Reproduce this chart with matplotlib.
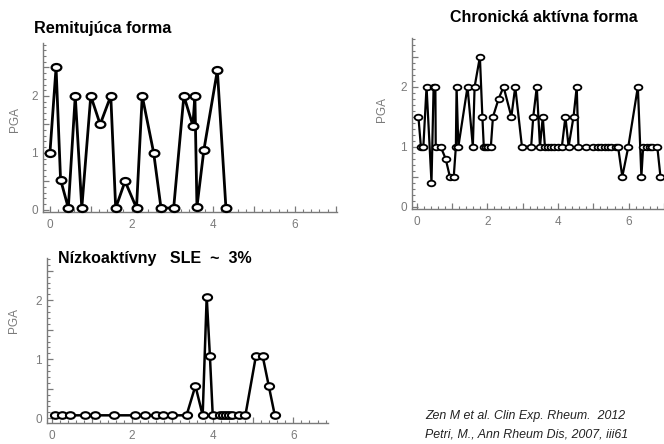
import matplotlib
matplotlib.use("Agg")
import matplotlib.pyplot as plt
from matplotlib.path import Path
from matplotlib.ticker import MultipleLocator, FuncFormatter

plt.rcParams['font.family'] = ['Liberation Sans', 'DejaVu Sans']

# ---- data ----
title1 = "Remitujúca forma"
x1 = [0.0, 0.15, 0.26, 0.45, 0.62, 0.78, 1.0, 1.23, 1.49, 1.61, 1.84, 2.12,
      2.26, 2.54, 2.72, 3.03, 3.28, 3.50, 3.55, 3.60, 3.77, 4.10, 4.31]
y1 = [1.0, 2.5, 0.53, 0.03, 2.0, 0.03, 2.0, 1.5, 2.0, 0.03, 0.5, 0.03,
      2.0, 1.0, 0.03, 0.03, 2.0, 1.48, 2.0, 0.05, 1.05, 2.45, 0.03]

title2 = "Chronická aktívna forma"
x2 = [0.05, 0.12, 0.19, 0.28, 0.42, 0.48, 0.53, 0.54, 0.68, 0.82, 0.94, 1.05,
      1.11, 1.13, 1.18, 1.44, 1.59, 1.64, 1.79, 1.86, 1.90, 1.96, 2.02, 2.10,
      2.16, 2.32, 2.46, 2.68, 2.79, 2.98, 3.24, 3.30, 3.40, 3.49, 3.57, 3.63,
      3.71, 3.80, 3.90, 4.01, 4.11, 4.21, 4.30, 4.44, 4.53, 4.58, 4.79, 5.00,
      5.12, 5.23, 5.32, 5.42, 5.51, 5.63, 5.70, 5.82, 5.99, 6.26, 6.36, 6.41,
      6.51, 6.60, 6.67, 6.81, 6.90]
y2 = [1.5, 1.0, 1.0, 2.0, 0.4, 2.0, 2.0, 1.0, 1.0, 0.8, 0.5, 0.5,
      1.0, 2.0, 1.0, 2.0, 1.0, 2.0, 2.5, 1.5, 1.0, 1.0, 1.0, 1.0,
      1.5, 1.8, 2.0, 1.5, 2.0, 1.0, 1.0, 1.5, 2.0, 1.0, 1.5, 1.0,
      1.0, 1.0, 1.0, 1.0, 1.0, 1.5, 1.0, 1.5, 2.0, 1.0, 1.0, 1.0,
      1.0, 1.0, 1.0, 1.0, 1.0, 1.0, 1.0, 0.5, 1.0, 2.0, 0.5, 1.0,
      1.0, 1.0, 1.0, 1.0, 0.5]

title3 = "Nízkoaktívny   SLE  ~  3%"
x3 = [0.08, 0.26, 0.47, 0.83, 1.09, 1.55, 2.07, 2.33, 2.58, 2.77, 3.00, 3.35,
      3.57, 3.75, 3.85, 3.93, 4.00, 4.19, 4.26, 4.32, 4.40, 4.47, 4.65, 4.81,
      5.07, 5.24, 5.39, 5.54]
y3 = [0.05, 0.05, 0.05, 0.05, 0.05, 0.05, 0.05, 0.05, 0.05, 0.05, 0.05, 0.05,
      0.55, 0.05, 2.06, 1.05, 0.05, 0.05, 0.05, 0.05, 0.05, 0.05, 0.05, 0.05,
      1.05, 1.05, 0.55, 0.05]

ylabel = "PGA"
xticks_labeled = [0, 2, 4, 6]
yticks_labeled = [0, 1, 2]
refs = ["Zen M et al. Clin Exp. Rheum.  2012",
        "Petri, M., Ann Rheum Dis, 2007, iii61"]

# ---- style ----
W, H = 664, 444
fig = plt.figure(figsize=(W / 100, H / 100), dpi=100)
fig.patch.set_facecolor('white')

circ = Path.unit_circle()
ellipse = Path(circ.vertices * [1.0, 0.72], circ.codes)

GRAY = '#7a7a7a'


def px_axes(left, top, right, bottom):
    return fig.add_axes([left / W, 1 - bottom / H, (right - left) / W, (bottom - top) / H])


def style(ax, xlim, ylim):
    ax.set_xlim(*xlim)
    ax.set_ylim(*ylim)
    for s in ('top', 'right'):
        ax.spines[s].set_visible(False)
    for s in ('left', 'bottom'):
        ax.spines[s].set_color(GRAY)
        ax.spines[s].set_linewidth(1.0)
    ax.xaxis.set_major_locator(MultipleLocator(1))
    ax.xaxis.set_minor_locator(MultipleLocator(0.2))
    ax.yaxis.set_major_locator(MultipleLocator(0.5))
    ax.yaxis.set_minor_locator(MultipleLocator(0.1))
    ax.xaxis.set_major_formatter(FuncFormatter(
        lambda v, p: str(int(round(v))) if int(round(v)) in xticks_labeled and abs(v - round(v)) < 1e-6 else ''))
    ax.yaxis.set_major_formatter(FuncFormatter(
        lambda v, p: str(int(round(v))) if int(round(v)) in yticks_labeled and abs(v - round(v)) < 1e-6 else ''))
    ax.tick_params(which='major', direction='in', length=4.5, width=0.9, color=GRAY,
                   labelcolor=GRAY, labelsize=8.5)
    ax.tick_params(axis='x', which='major', pad=5)
    ax.tick_params(axis='y', which='major', pad=3.5)
    ax.tick_params(which='minor', direction='in', length=2.2, width=0.8, color=GRAY)
    ax.set_ylabel(ylabel, color=GRAY, fontsize=8.5)


# Panel 1
ax1 = px_axes(43, 43, 337, 212)
style(ax1, (-0.17, 7.03), (-0.04, 2.93))
ax1.plot(x1, y1, color='black', lw=2.0, marker=ellipse, ms=7.0, mfc='white',
         mec='black', mew=1.6, clip_on=False, zorder=3)
ax1.yaxis.set_label_coords(-22 / 294, 0.55)

# Panel 2
ax2 = px_axes(411.7, 38.3, 664, 209)
style(ax2, (-0.14, 7.0), (-0.04, 2.81))
ax2.plot(x2, y2, color='black', lw=1.6, marker=ellipse, ms=5.6, mfc='white',
         mec='black', mew=1.3, clip_on=False, zorder=3)
ax2.yaxis.set_label_coords(-24 / 252, 0.58)

# Panel 3
ax3 = px_axes(46.7, 258.3, 328, 422.7)
style(ax3, (-0.12, 6.86), (-0.075, 2.71))
ax3.plot(x3, y3, color='black', lw=1.8, marker=ellipse, ms=6.6, mfc='white',
         mec='black', mew=1.5, clip_on=False, zorder=3)
ax3.yaxis.set_label_coords(-27 / 281, 0.62)

# Titles
fig.text(34 / W, 1 - 28 / H, title1, fontsize=11.7, fontweight='bold', ha='left', va='center')
fig.text(450 / W, 1 - 17 / H, title2, fontsize=11.5, fontweight='bold', ha='left', va='center')
fig.text(58 / W, 1 - 258 / H, title3, fontsize=11.5, fontweight='bold', ha='left', va='center')

# References
fig.text(425 / W, 1 - 415.5 / H, refs[0], fontsize=8.9, style='italic', color='#222222',
         ha='left', va='center')
fig.text(425 / W, 1 - 434.5 / H, refs[1], fontsize=8.9, style='italic', color='#222222',
         ha='left', va='center')

fig.savefig('out.png', dpi=100, facecolor='white')
